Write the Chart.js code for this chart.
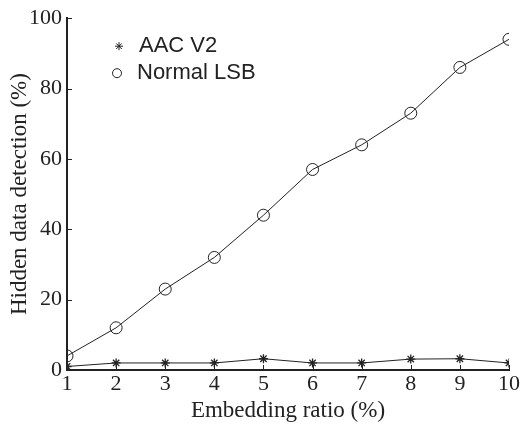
<!DOCTYPE html>
<html>
<head>
<meta charset="utf-8">
<script src="https://cdn.jsdelivr.net/npm/chart.js@4"></script>
<style>
  html, body { margin: 0; padding: 0; background: #fff; }
  #wrap { width: 531px; height: 425px; }
</style>
</head>
<body>
<div id="wrap"><canvas id="chart"></canvas></div>
<script>
  // data
  let ratios = [1, 2, 3, 4, 5, 6, 7, 8, 9, 10];
  let aacV2 = [1, 2, 2, 2, 3.2, 2, 2, 3.1, 3.2, 2];
  let normalLsb = [4, 12, 23, 32, 44, 57, 64, 73, 86, 94];
  let seriesNames = ['AAC V2', 'Normal LSB'];

  let ink = '#222';
  let serif = '"Liberation Serif", "Times New Roman", serif';

  let toPoints = arr => arr.map((v, i) => ({ x: ratios[i], y: v }));

  // small inward ticks on both axes
  let inwardTicks = {
    id: 'inwardTicks',
    afterDraw(chart) {
      let ctx = chart.ctx;
      let { x, y } = chart.scales;
      let area = chart.chartArea;
      ctx.save();
      ctx.strokeStyle = ink;
      ctx.lineWidth = 1;
      ctx.beginPath();
      x.ticks.forEach(t => {
        let px = Math.round(x.getPixelForValue(t.value)) + 0.5;
        ctx.moveTo(px, area.bottom);
        ctx.lineTo(px, area.bottom - 5);
      });
      y.ticks.forEach(t => {
        let py = Math.round(y.getPixelForValue(t.value)) + 0.5;
        ctx.moveTo(area.left, py);
        ctx.lineTo(area.left + 5, py);
      });
      ctx.stroke();
      ctx.restore();
    }
  };

  // legend drawn inside the plot, top-left
  let innerLegend = {
    id: 'innerLegend',
    afterDraw(chart) {
      let ctx = chart.ctx;
      let area = chart.chartArea;
      let lx = area.left + 52;
      let ly = area.top + 28;
      ctx.save();
      ctx.strokeStyle = ink;
      ctx.lineWidth = 1;
      // star
      ctx.beginPath();
      let r = 4;
      ctx.moveTo(lx - r, ly); ctx.lineTo(lx + r, ly);
      ctx.moveTo(lx, ly - r); ctx.lineTo(lx, ly + r);
      ctx.moveTo(lx - r * 0.7, ly - r * 0.7); ctx.lineTo(lx + r * 0.7, ly + r * 0.7);
      ctx.moveTo(lx - r * 0.7, ly + r * 0.7); ctx.lineTo(lx + r * 0.7, ly - r * 0.7);
      ctx.stroke();
      // circle
      ctx.beginPath();
      ctx.arc(lx - 2, ly + 27, 4.5, 0, Math.PI * 2);
      ctx.stroke();
      ctx.fillStyle = ink;
      ctx.font = '22px "Liberation Sans", Arial, sans-serif';
      ctx.textBaseline = 'middle';
      ctx.fillText(seriesNames[0], lx + 20, ly);
      ctx.fillText(seriesNames[1], lx + 18, ly + 27);
      ctx.restore();
    }
  };

  new Chart(document.getElementById('chart'), {
    type: 'line',
    data: {
      datasets: [{
        label: seriesNames[0],
        data: toPoints(aacV2),
        borderColor: ink,
        borderWidth: 1,
        pointStyle: 'star',
        pointRadius: 4.5,
        pointBorderColor: ink,
        pointBorderWidth: 1.3,
        fill: false
      }, {
        label: seriesNames[1],
        data: toPoints(normalLsb),
        borderColor: ink,
        borderWidth: 1,
        pointStyle: 'circle',
        pointRadius: 6,
        pointBackgroundColor: 'rgba(0,0,0,0)',
        pointBorderColor: ink,
        pointBorderWidth: 1,
        fill: false
      }]
    },
    options: {
      responsive: true,
      maintainAspectRatio: false,
      animation: false,
      layout: { padding: { top: 17, right: 22, left: 0, bottom: 0 } },
      plugins: {
        legend: { display: false },
        tooltip: { enabled: false }
      },
      scales: {
        x: {
          type: 'linear',
          min: 1,
          max: 10,
          ticks: { stepSize: 1, color: ink, font: { family: serif, size: 22 }, padding: 1, maxRotation: 0 },
          grid: { display: false, drawTicks: false },
          border: { color: ink, width: 2 },
          title: { display: true, text: 'Embedding ratio (%)', color: ink, font: { family: serif, size: 23 }, padding: { top: 3, bottom: 0 } },
          afterFit: s => { s.height = 55; }
        },
        y: {
          min: 0,
          max: 100,
          ticks: { stepSize: 20, color: ink, font: { family: serif, size: 22 }, padding: 5 },
          grid: { display: false, drawTicks: false },
          border: { color: ink, width: 2 },
          title: { display: true, text: 'Hidden data detection (%)', color: ink, font: { family: serif, size: 23 }, padding: { top: 6, bottom: 0 } },
          afterFit: s => { s.width = 67; }
        }
      }
    },
    plugins: [inwardTicks, innerLegend]
  });
</script>
</body>
</html>
